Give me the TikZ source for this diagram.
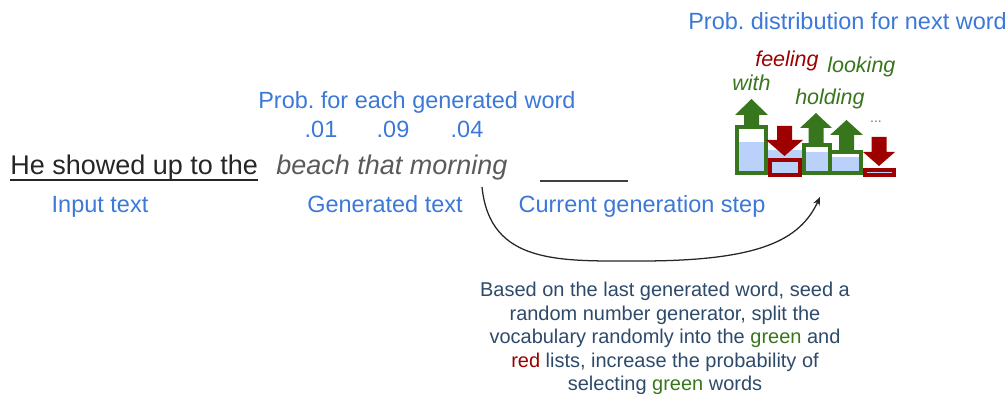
\documentclass[tikz,border=0pt]{standalone}
\usepackage{fontspec}
\setmainfont{Liberation Sans}
\frenchspacing
\usetikzlibrary{arrows.meta}
\definecolor{mblue}{HTML}{3C78D8}
\definecolor{mgreen}{HTML}{38761D}
\definecolor{mred}{HTML}{9E0000}
\definecolor{mlight}{HTML}{BAD2FA}
\definecolor{mnavy}{HTML}{2E4A6B}
\definecolor{mgray}{HTML}{5A5A5A}
\tikzset{txt/.style = {inner sep = 0, font = \fontsize{19.2}{23}\selectfont}}
\tikzset{lbl/.style = {inner sep = 0, text = mblue, font = \fontsize{16.7}{20}\selectfont}}
\tikzset{wrd/.style = {inner sep = 0, font = \fontsize{15.3}{18}\selectfont\itshape}}
\tikzset{gbar/.style = {draw = mgreen, line width = 2.8pt}}
\tikzset{rbar/.style = {draw = mred, line width = 2.8pt}}

\begin{document}
\begin{tikzpicture}[x=0.025cm, y=-0.025cm]
      \useasboundingbox (0, 0) rectangle (1008, 394);
      \node [lbl, anchor=base west] (title) at (688, 30) {Prob.\ distribution for next word};
      \node [lbl, anchor=base west] (probs) at (258, 109) {Prob.\ for each generated word};
      \node [lbl, anchor=base] (p1) at (321, 138) {.01};
      \node [lbl, anchor=base] (p2) at (393, 138) {.09};
      \node [lbl, anchor=base] (p3) at (467, 138) {.04};
      \node [txt, anchor=base west, text=black!85] (inp) at (10, 175) {He showed up to the};
      \node [txt, anchor=base west, text=mgray, font=\fontsize{19.2}{23}\selectfont\itshape] (gen) at (276, 175) {beach that morning};
      \draw [black!85, line width=1.1pt] ([yshift=-3.6pt]inp.base west) -- ([yshift=-3.6pt]inp.base east);
      \coordinate (blankL) at (540, 181);
      \coordinate (blankR) at (628, 181);
      \draw [black!75, line width=1.1pt] (blankL) -- (blankR);
      \node [lbl, anchor=base] (inlbl) at (100, 212) {Input text};
      \node [lbl, anchor=base] (genlbl) at (385, 212) {Generated text};
      \node [lbl, anchor=base] (steplbl) at (642, 212) {Current generation step};
      \fill [mlight] (768, 150) rectangle (802, 160);
      \fill [mlight] (737, 142) rectangle (766, 173);
      \fill [mlight] (770, 160) rectangle (800, 175);
      \fill [mlight] (804, 152) rectangle (830, 173);
      \fill [mlight] (830, 157) rectangle (861, 173);
      \fill [mlight] (865, 170) rectangle (894, 175);
      \draw [gbar] (737, 127) rectangle (766, 173);
      \draw [gbar] (804, 145) rectangle (830, 173);
      \draw [gbar] (830, 152) rectangle (861, 173);
      \draw [rbar] (770, 160) rectangle (800, 175);
      \draw [rbar] (865, 170) rectangle (894, 175);
      \foreach \l/\r/\t/\h/\s in {735/768/99/115/126, 800/832/113/128/144, 830/863/120/135/151}
        \fill [mgreen] (\l, \h) -- ({(\l+\r)/2}, \t) -- (\r, \h) -- ({(\l+\r)/2+7.5}, \h)
          -- ({(\l+\r)/2+7.5}, \s) -- ({(\l+\r)/2-7.5}, \s) -- ({(\l+\r)/2-7.5}, \h) -- cycle;
      \foreach \l/\r/\t/\h/\s in {766/803/156/140/126, 863/895/166/152/137}
        \fill [mred] (\l, \h) -- ({(\l+\r)/2}, \t) -- (\r, \h) -- ({(\l+\r)/2+7.5}, \h)
          -- ({(\l+\r)/2+7.5}, \s) -- ({(\l+\r)/2-7.5}, \s) -- ({(\l+\r)/2-7.5}, \h) -- cycle;
      \node [wrd, anchor=base west, text=mgreen] (with) at (732, 91) {with};
      \node [wrd, anchor=base west, text=mred] (feeling) at (755, 67) {feeling};
      \node [wrd, anchor=base west, text=mgreen] (looking) at (827, 73) {looking};
      \node [wrd, anchor=base west, text=mgreen] (holding) at (795, 105) {holding};
      \node [inner sep=0, text=black!55, font=\fontsize{10}{12}\selectfont] (dots) at (876, 122) {...};
      \node [inner sep=0, anchor=north, align=center, text=mnavy, font=\fontsize{14.2}{16.7}\selectfont] (note) at (665, 282)
        {Based on the last generated word, seed a\\ random number generator, split the\\
         vocabulary randomly into the \textcolor{mgreen}{green} and\\
         \textcolor{mred}{red} lists, increase the probability of\\
         selecting \textcolor{mgreen}{green} words};
      \coordinate (cstart) at (482, 187);
      \coordinate (cend) at (820, 197);
      \draw [-{Stealth[length=6pt, width=5pt]}, line width=0.9pt, black!85] (cstart)
        .. controls (490, 265) and (560, 261) .. (640, 261)
        .. controls (760, 261) and (800, 240) .. (cend);
    \end{tikzpicture}
\end{document}
